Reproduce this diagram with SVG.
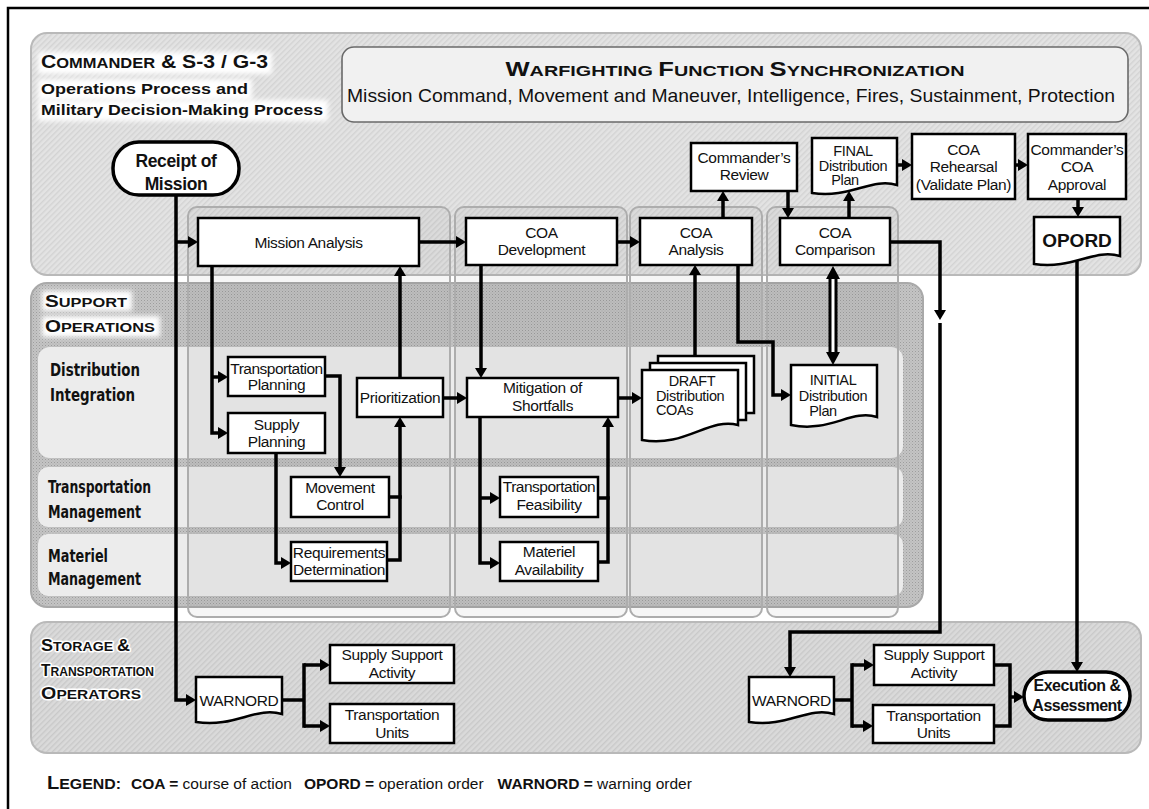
<svg xmlns="http://www.w3.org/2000/svg" width="1149" height="809" viewBox="0 0 1149 809">
<defs>
<pattern id="hatch" width="4" height="4" patternUnits="userSpaceOnUse" patternTransform="rotate(45)"><rect width="4" height="4" fill="#e3e3e3"/><rect width="1.4" height="4" fill="#d3d3d3"/></pattern>
<pattern id="hatch2" width="4" height="4" patternUnits="userSpaceOnUse" patternTransform="rotate(45)"><rect width="4" height="4" fill="#dadada"/><rect width="1.4" height="4" fill="#c9c9c9"/></pattern>
<pattern id="stip" width="3" height="3" patternUnits="userSpaceOnUse"><rect width="3" height="3" fill="#c4c4c4"/><rect width="1" height="1" fill="#9d9d9d"/><rect x="1.5" y="1.5" width="1" height="1" fill="#acacac"/></pattern>
<filter id="soft" x="-20%" y="-50%" width="140%" height="200%"><feGaussianBlur stdDeviation="2.5"/></filter>
<marker id="ah" viewBox="0 0 10 12" refX="6" refY="6" markerWidth="10" markerHeight="12" markerUnits="userSpaceOnUse" orient="auto"><path d="M0,0 L10,6 L0,12 Z" fill="#000"/></marker>
<style>
.n{font-family:"Liberation Sans",Arial,sans-serif;font-size:15.5px;letter-spacing:-0.35px;text-anchor:middle;fill:#111}
.d{font-size:14.5px}
.b{font-weight:bold}
.h{font-family:"Liberation Sans",Arial,sans-serif;font-weight:bold;fill:#111}
.c{font-family:"DejaVu Sans Condensed","DejaVu Sans",sans-serif;font-weight:bold;font-size:18px;fill:#111}
.box{fill:#fff;stroke:#000;stroke-width:2.5}
.pill{fill:#fff;stroke:#000;stroke-width:3.5}
.ln{fill:none;stroke:#000;stroke-width:3.5}
.sq{stroke-linecap:square}
.arr{marker-end:url(#ah)}
.col{fill:#000;fill-opacity:0.035;stroke:#adadad;stroke-width:2}
.band{fill:#ececec}
.glow{fill:#fff;filter:url(#soft)}
.halo{stroke:#fff;stroke-width:3;paint-order:stroke;stroke-linejoin:round}
</style>
</defs>

<rect x="0" y="0" width="1149" height="809" fill="#fff"/>
<rect x="8" y="8" width="1170" height="830" fill="none" stroke="#000" stroke-width="2.5"/>

<g id="panels">
<rect x="31" y="33" width="1110" height="242" rx="16" fill="url(#hatch)" stroke="#b9b9b9" stroke-width="2"/>
<rect x="342" y="47" width="786" height="75" rx="12" fill="#f1f1f1" stroke="#6a6a6a" stroke-width="1.6"/>
<rect x="31" y="283" width="892" height="324" rx="16" fill="url(#stip)" stroke="#a9a9a9" stroke-width="2"/>
<rect x="38" y="347" width="865" height="111" rx="12" class="band"/>
<rect x="38" y="467" width="865" height="60" rx="10" class="band"/>
<rect x="38" y="534" width="865" height="62" rx="10" class="band"/>
<rect x="31" y="622" width="1110" height="131" rx="16" fill="url(#hatch2)" stroke="#b9b9b9" stroke-width="2"/>
</g>

<g id="columns">
<rect x="188" y="207" width="262" height="410" rx="9" class="col"/>
<rect x="455" y="207" width="172" height="410" rx="9" class="col"/>
<rect x="630" y="207" width="132" height="410" rx="9" class="col"/>
<rect x="767" y="207" width="131" height="410" rx="9" class="col"/>
</g>

<g id="labels">
<rect x="38" y="52" width="234" height="22" class="glow"/>
<rect x="38" y="79" width="214" height="21" class="glow"/>
<rect x="38" y="100" width="290" height="21" class="glow"/>
<text class="h" x="41" y="68" textLength="227" lengthAdjust="spacingAndGlyphs"><tspan font-size="18">C</tspan><tspan font-size="14">OMMANDER</tspan><tspan font-size="18"> &amp; S-3 / G-3</tspan></text>
<text class="h" x="41" y="94" font-size="15.5" textLength="207" lengthAdjust="spacingAndGlyphs">Operations Process and</text>
<text class="h" x="41" y="115" font-size="15.5" textLength="282" lengthAdjust="spacingAndGlyphs">Military Decision-Making Process</text>
<text class="h" x="735" y="76" text-anchor="middle" textLength="459" lengthAdjust="spacingAndGlyphs"><tspan font-size="20">W</tspan><tspan font-size="15.5">ARFIGHTING </tspan><tspan font-size="20">F</tspan><tspan font-size="15.5">UNCTION </tspan><tspan font-size="20">S</tspan><tspan font-size="15.5">YNCHRONIZATION</tspan></text>
<text x="731" y="102" text-anchor="middle" font-family="Liberation Sans, Arial, sans-serif" font-size="18.5" fill="#111" textLength="768" lengthAdjust="spacingAndGlyphs">Mission Command, Movement and Maneuver, Intelligence, Fires, Sustainment, Protection</text>
<rect x="42" y="291" width="90" height="20" class="glow"/>
<rect x="42" y="316" width="118" height="21" class="glow"/>
<text class="h" x="45" y="307" textLength="82" lengthAdjust="spacingAndGlyphs"><tspan font-size="17">S</tspan><tspan font-size="13.5">UPPORT</tspan></text>
<text class="h" x="45" y="332" textLength="110" lengthAdjust="spacingAndGlyphs"><tspan font-size="17">O</tspan><tspan font-size="13.5">PERATIONS</tspan></text>
<text class="c" x="50" y="376" textLength="90" lengthAdjust="spacingAndGlyphs">Distribution</text>
<text class="c" x="50" y="401" textLength="85" lengthAdjust="spacingAndGlyphs">Integration</text>
<text class="c" x="48" y="493" textLength="103" lengthAdjust="spacingAndGlyphs">Transportation</text>
<text class="c" x="48" y="518" textLength="93" lengthAdjust="spacingAndGlyphs">Management</text>
<text class="c" x="48" y="562" textLength="60" lengthAdjust="spacingAndGlyphs">Materiel</text>
<text class="c" x="48" y="585" textLength="93" lengthAdjust="spacingAndGlyphs">Management</text>
<text class="h halo" x="41" y="651" textLength="89" lengthAdjust="spacingAndGlyphs"><tspan font-size="16">S</tspan><tspan font-size="12.5">TORAGE </tspan><tspan font-size="16">&amp;</tspan></text>
<text class="h halo" x="41" y="676" textLength="113" lengthAdjust="spacingAndGlyphs"><tspan font-size="16">T</tspan><tspan font-size="12.5">RANSPORTATION</tspan></text>
<text class="h halo" x="41" y="699" textLength="100" lengthAdjust="spacingAndGlyphs"><tspan font-size="16">O</tspan><tspan font-size="12.5">PERATORS</tspan></text>
</g>

<g id="connectors">
<path class="ln arr" d="M176,242 H194"/>
<path class="ln arr" d="M176,195 V700 H192"/>
<path class="ln arr" d="M419,242 H462"/>
<path class="ln arr" d="M617,242 H636"/>
<path class="ln arr" d="M723,218 V195"/>
<path class="ln arr" d="M788,191 V214"/>
<path class="ln arr" d="M849,218 V195"/>
<path class="ln arr" d="M897,165 H908"/>
<path class="ln arr" d="M1015,165 H1024"/>
<path class="ln arr" d="M1078,199 V213"/>
<path class="ln arr" d="M1077,259 V668"/>
<path class="ln arr" d="M890,242 H940 V316"/>
<path class="ln arr" d="M940,323 V632 H790 V673"/>
<path class="ln arr" d="M212,266 V433 H224"/>
<path class="ln arr" d="M212,377 H224"/>
<path class="ln arr" d="M325,376 H340 V473"/>
<path class="ln arr" d="M276,453 V563 H287"/>
<path class="ln sq" d="M389,497 H400"/>
<path class="ln arr" d="M387,560 H400 V421"/>
<path class="ln arr" d="M400,378 V270"/>
<path class="ln arr" d="M443,398 H463"/>
<path class="ln arr" d="M481,265 V374"/>
<path class="ln arr" d="M480,417 V563 H496"/>
<path class="ln arr" d="M480,498 H496"/>
<path class="ln sq" d="M598,498 H608"/>
<path class="ln arr" d="M598,562 H608 V421"/>
<path class="ln arr" d="M618,398 H638"/>
<path class="ln arr" d="M695,356 V269"/>
<path class="ln arr" d="M738,265 V342 H773 V395 H787"/>
<path d="M833,277 V354" stroke="#000" stroke-width="9" fill="none"/>
<path d="M833,277 V354" stroke="#fff" stroke-width="3" fill="none"/>
<path d="M833,266 L840,279 L826,279 Z" fill="#000"/>
<path d="M833,365 L840,352 L826,352 Z" fill="#000"/>
<path class="ln" d="M282,700 H304"/>
<path class="ln sq" d="M304,665 V726"/>
<path class="ln arr" d="M304,665 H326"/>
<path class="ln arr" d="M304,726 H326"/>
<path class="ln" d="M834,700 H852"/>
<path class="ln sq" d="M852,665 V726"/>
<path class="ln arr" d="M852,665 H870"/>
<path class="ln arr" d="M852,726 H869"/>
<path class="ln sq" d="M994,665 H1010 V726 H994"/>
<path class="ln arr" d="M1010,697 H1020"/>
</g>

<g id="receipt"><rect x="113" y="142" width="126" height="53" rx="26" class="pill"/><text class="n b" x="176" y="167" style="font-size:17.5px">Receipt of</text><text class="n b" x="176" y="190" style="font-size:17.5px">Mission</text></g>
<g id="mission-analysis"><rect x="198" y="218" width="221" height="48" class="box"/><text class="n" x="308.5" y="248">Mission Analysis</text></g>
<g id="coa-development"><rect x="466" y="218" width="151" height="47" class="box"/><text class="n" x="541.5" y="238">COA</text><text class="n" x="541.5" y="255">Development</text></g>
<g id="coa-analysis"><rect x="640" y="218" width="112" height="47" class="box"/><text class="n" x="696" y="238">COA</text><text class="n" x="696" y="255">Analysis</text></g>
<g id="commanders-review"><rect x="691" y="143" width="106" height="48" class="box"/><text class="n" x="744" y="163">Commander’s</text><text class="n" x="744" y="180">Review</text></g>
<g id="coa-comparison"><rect x="780" y="218" width="110" height="47" class="box"/><text class="n" x="835" y="238">COA</text><text class="n" x="835" y="255">Comparison</text></g>
<g id="final-plan"><path d="M812,138 H897 V185 C871.5,177 850,199 812,193 Z" class="box"/><text class="n d" x="853" y="156">FINAL</text><text class="n d" x="853" y="170.5">Distribution</text><text class="n d" x="845" y="185">Plan</text></g>
<g id="coa-rehearsal"><rect x="912" y="134" width="103" height="65" class="box"/><text class="n" x="963.5" y="155">COA</text><text class="n" x="963.5" y="172">Rehearsal</text><text class="n" x="963.5" y="190">(Validate Plan)</text></g>
<g id="coa-approval"><rect x="1028" y="134" width="98" height="65" class="box"/><text class="n" x="1077" y="155">Commander’s</text><text class="n" x="1077" y="172">COA</text><text class="n" x="1077" y="190">Approval</text></g>
<g id="opord"><path d="M1034,217 H1120 V256 C1094,248 1072.7,270 1034,264 Z" class="box"/><text class="n b" x="1077" y="247" style="font-size:19px;letter-spacing:0">OPORD</text></g>
<g id="transportation-planning"><rect x="228" y="357" width="97" height="39" class="box"/><text class="n" x="276.5" y="374" style="letter-spacing:-0.5px">Transportation</text><text class="n" x="276.5" y="390">Planning</text></g>
<g id="supply-planning"><rect x="228" y="413" width="97" height="40" class="box"/><text class="n" x="276.5" y="430">Supply</text><text class="n" x="276.5" y="447">Planning</text></g>
<g id="movement-control"><rect x="291" y="477" width="98" height="40" class="box"/><text class="n" x="340" y="493">Movement</text><text class="n" x="340" y="510">Control</text></g>
<g id="requirements-determination"><rect x="291" y="542" width="96" height="39" class="box"/><text class="n" x="339" y="558">Requirements</text><text class="n" x="339" y="575">Determination</text></g>
<g id="prioritization"><rect x="357" y="378" width="86" height="39" class="box"/><text class="n" x="400" y="403">Prioritization</text></g>
<g id="mitigation"><rect x="467" y="378" width="151" height="39" class="box"/><text class="n" x="542.5" y="393">Mitigation of</text><text class="n" x="542.5" y="411">Shortfalls</text></g>
<g id="transportation-feasibility"><rect x="500" y="477" width="98" height="40" class="box"/><text class="n" x="549" y="492" style="letter-spacing:-0.5px">Transportation</text><text class="n" x="549" y="510">Feasibility</text></g>
<g id="materiel-availability"><rect x="500" y="542" width="98" height="39" class="box"/><text class="n" x="549" y="557">Materiel</text><text class="n" x="549" y="575">Availability</text></g>
<g id="draft-coas"><rect x="658" y="356" width="96" height="57" class="box"/><rect x="650" y="363" width="96" height="57" class="box"/><path d="M642,370 H738 V425 C709,417 685,448 642,440 Z" class="box"/><text class="n d" x="692" y="386">DRAFT</text><text class="n d" x="656" y="400.5" style="text-anchor:start">Distribution</text><text class="n d" x="656" y="415" style="text-anchor:start">COAs</text></g>
<g id="initial-plan"><path d="M791,365 H877 V417 C851,409 830,433 791,425 Z" class="box"/><text class="n d" x="833" y="385">INITIAL</text><text class="n d" x="833" y="400.5">Distribution</text><text class="n d" x="823" y="416">Plan</text></g>
<g id="warnord-left"><path d="M196,677 H282 V714 C256,706 235,728 196,722 Z" class="box"/><text class="n" x="239" y="706">WARNORD</text></g>
<g id="ssa-left"><rect x="330" y="645" width="124" height="38" class="box"/><text class="n" x="392" y="660">Supply Support</text><text class="n" x="392" y="678">Activity</text></g>
<g id="tu-left"><rect x="330" y="704" width="124" height="39" class="box"/><text class="n" x="392" y="720">Transportation</text><text class="n" x="392" y="738">Units</text></g>
<g id="warnord-right"><path d="M749,677 H834 V714 C808,706 787,728 749,722 Z" class="box"/><text class="n" x="791.5" y="706">WARNORD</text></g>
<g id="ssa-right"><rect x="874" y="645" width="120" height="40" class="box"/><text class="n" x="934" y="660">Supply Support</text><text class="n" x="934" y="678">Activity</text></g>
<g id="tu-right"><rect x="873" y="705" width="121" height="38" class="box"/><text class="n" x="933.5" y="721">Transportation</text><text class="n" x="933.5" y="738">Units</text></g>
<g id="execution"><rect x="1024" y="672" width="106" height="48" rx="24" class="pill"/><text class="n b" x="1077" y="691" style="font-size:16px;letter-spacing:-0.5px">Execution &amp;</text><text class="n b" x="1077" y="711" style="font-size:16px;letter-spacing:-0.5px">Assessment</text></g>

<g id="legend">
<text class="h" x="47" y="789" textLength="74" lengthAdjust="spacingAndGlyphs"><tspan font-size="19">L</tspan><tspan font-size="15">EGEND:</tspan></text>
<text x="131" y="789" font-family="Liberation Sans, Arial, sans-serif" font-size="15.5" fill="#111"><tspan font-weight="bold">COA =</tspan> course of action<tspan dx="12" font-weight="bold">OPORD =</tspan> operation order<tspan dx="14" font-weight="bold">WARNORD =</tspan> warning order</text>
</g>
</svg>
